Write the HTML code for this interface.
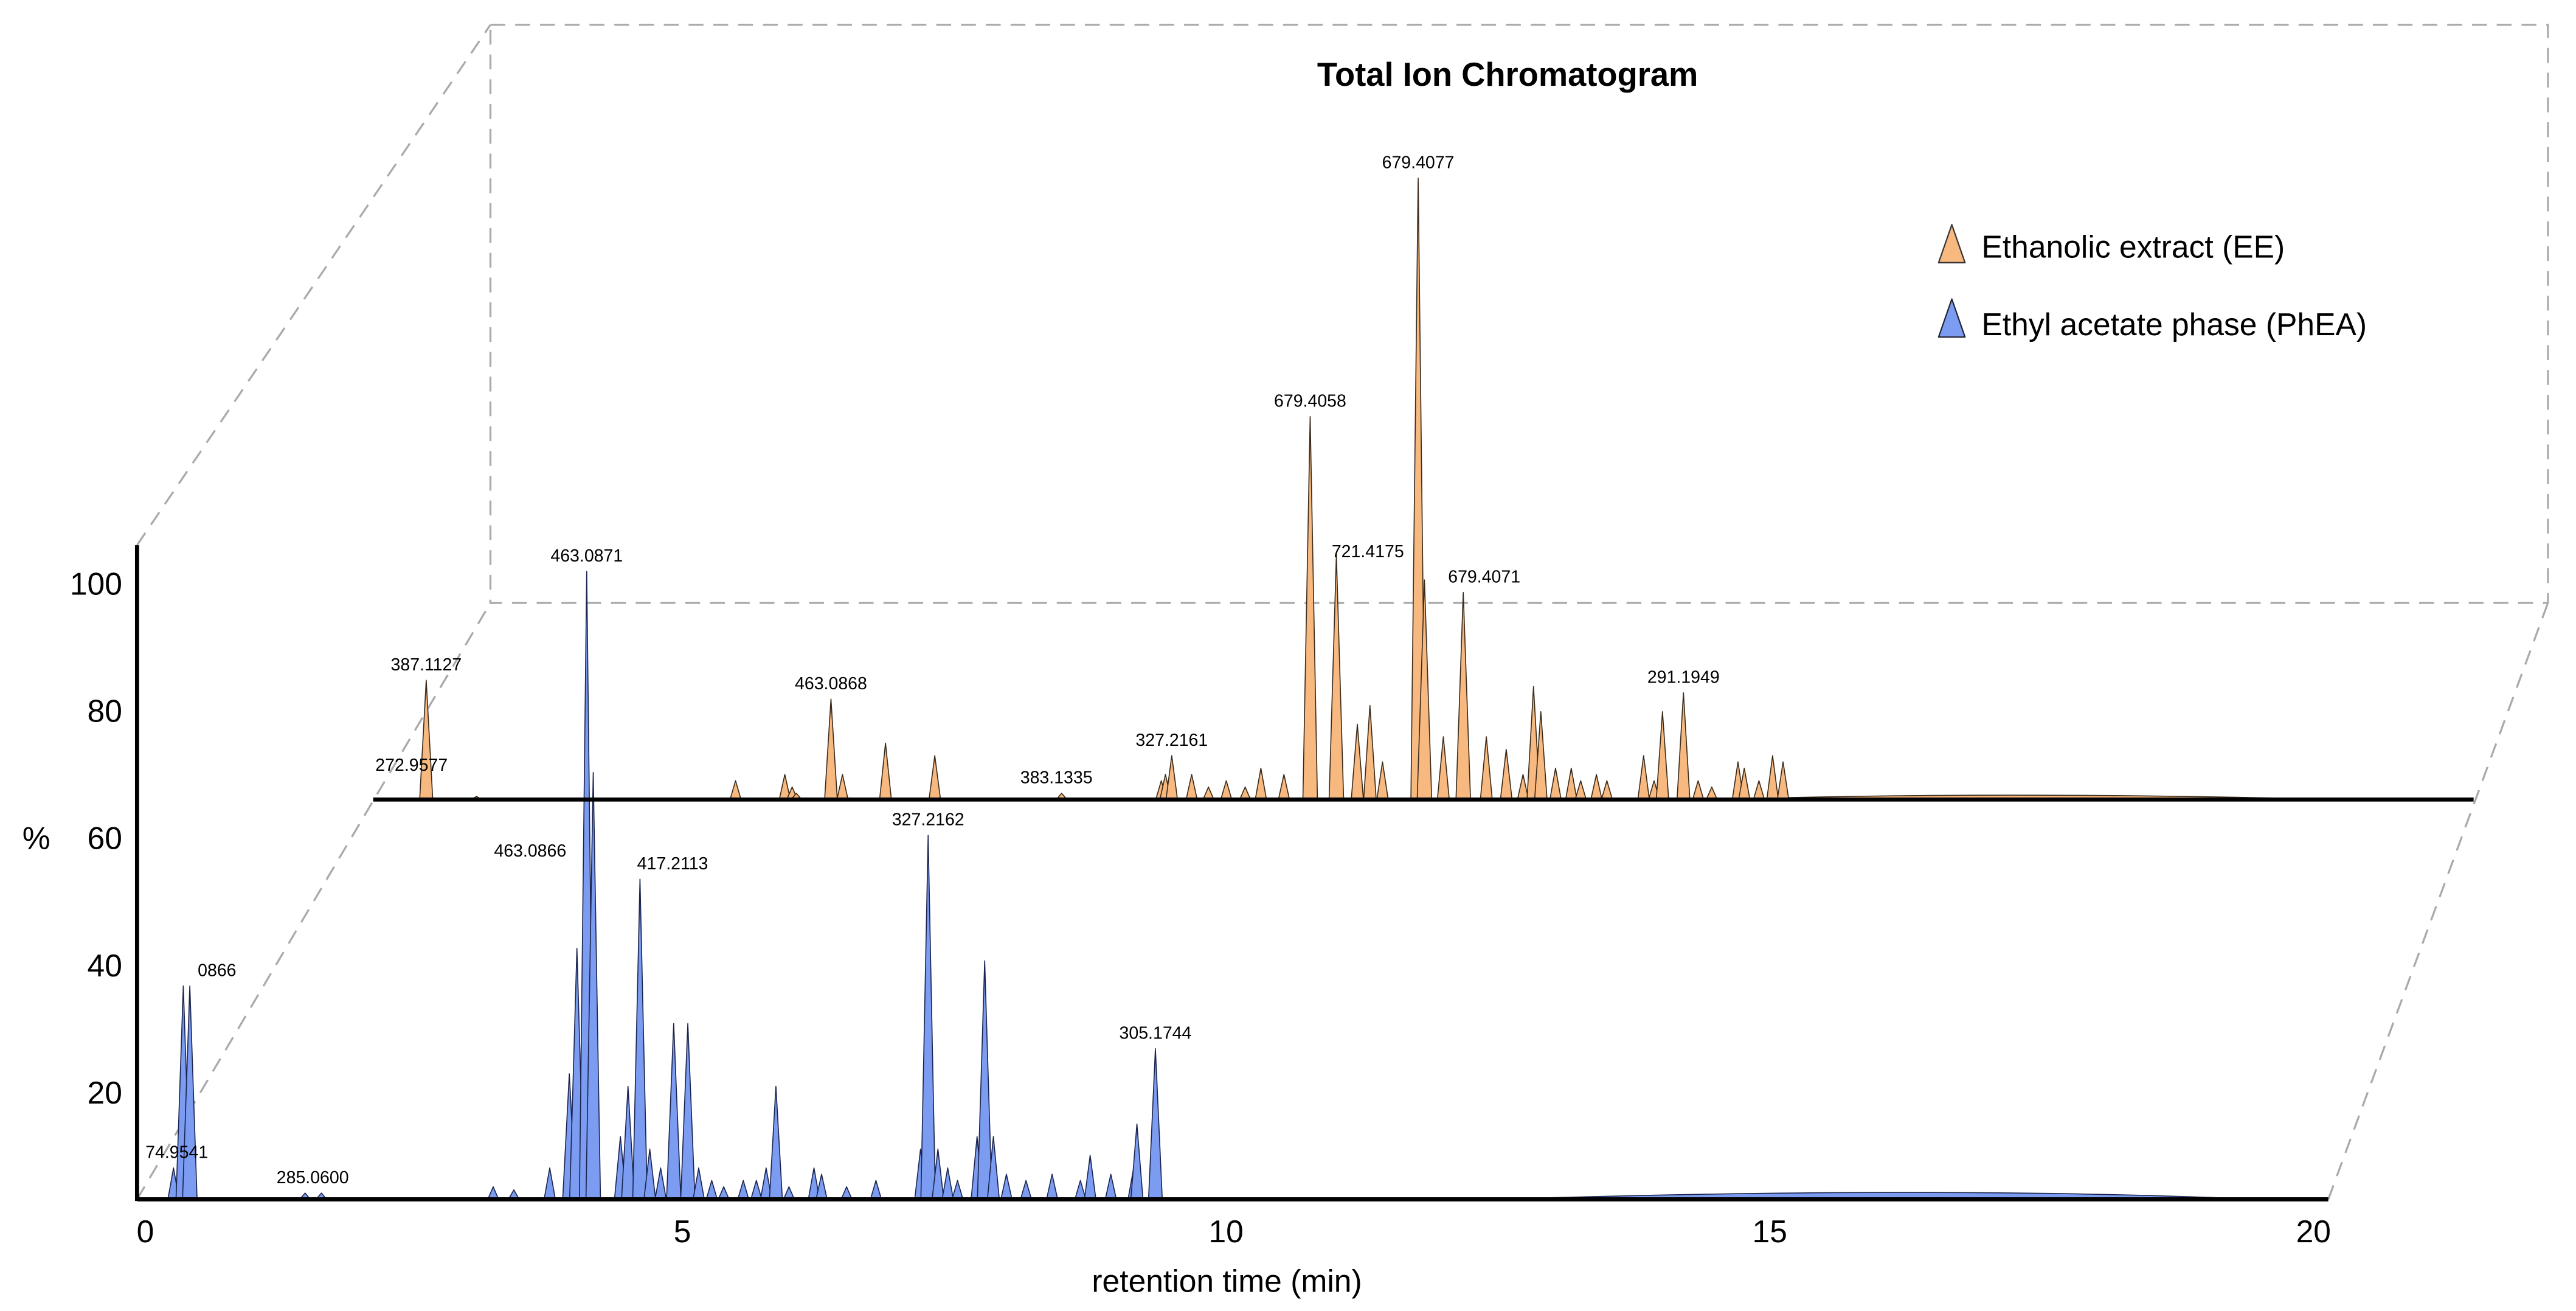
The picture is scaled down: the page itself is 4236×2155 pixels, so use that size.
<!DOCTYPE html>
<html><head><meta charset="utf-8"><style>
html,body{margin:0;padding:0;background:#fff;}
svg{display:block;font-family:"Liberation Sans",Arial,sans-serif;}
</style></head><body>
<svg id="chart" width="4236" height="2155" viewBox="0 0 1560 793.6" preserveAspectRatio="none" xmlns="http://www.w3.org/2000/svg">
<g fill="none" stroke="#aaa" stroke-width="1.2" stroke-dasharray="9,6">
<rect x="297" y="15" width="1246" height="350"/>
<line x1="83" y1="330" x2="297" y2="15"/>
<line x1="83" y1="726" x2="297" y2="365"/>
<line x1="1410" y1="726" x2="1543" y2="365"/>
</g>
<text x="913" y="52" text-anchor="middle" font-size="20" font-weight="bold">Total Ion Chromatogram</text>
<g>
<path d="M1174,159 L1182,136 L1190,159 Z" fill="#f7b97f" stroke="#333" stroke-width="0.8" stroke-linejoin="round"/>
<text x="1200" y="156" font-size="19">Ethanolic extract (EE)</text>
<path d="M1174,204 L1182,181 L1190,204 Z" fill="#7b9cf0" stroke="#223" stroke-width="0.8" stroke-linejoin="round"/>
<text x="1200" y="203" font-size="19">Ethyl acetate phase (PhEA)</text>
</g>
<g id="ee"></g>
<g id="phea"></g>
<line x1="226" y1="484" x2="1498" y2="484" stroke="#000" stroke-width="2.5"/>
<line x1="83" y1="726" x2="1410" y2="726" stroke="#000" stroke-width="2.5"/>
<line x1="83" y1="330" x2="83" y2="727" stroke="#000" stroke-width="2.5"/>
<g id="xt"></g>
<g id="yt"></g>
<text x="743" y="782" text-anchor="middle" font-size="19">retention time (min)</text>
<text x="22" y="514" text-anchor="middle" font-size="19">%</text>
<g id="labels" font-size="10.5" text-anchor="middle"></g>
</svg>
<script>
// EE (middle layer) peaks: retention times (min) and intensities (%)
const eeTimes = [0.49,0.97,3.44,3.91,3.98,4.02,4.35,4.46,4.87,5.34,6.55,7.5,7.54,7.6,7.79,7.95,8.12,8.3,8.45,8.67,8.92,9.17,9.37,9.49,9.61,9.95,10.01,10.19,10.38,10.6,10.79,10.95,11.05,11.12,11.26,11.41,11.5,11.65,11.75,12.1,12.2,12.28,12.48,12.62,12.75,13.0,13.06,13.2,13.33,13.43];
const eeVals  = [19,0.5,3,4,2,1,16,4,9,7,1,3,4,7,4,2,3,2,5,4,61,39,12,15,6,99,35,10,33,10,8,4,18,14,5,5,3,4,3,7,3,14,17,3,2,6,5,3,7,6];
// PhEA (front layer) peaks
const pheaTimes = [0.32,0.41,0.47,1.53,1.68,3.26,3.45,3.78,3.96,4.03,4.12,4.18,4.43,4.5,4.61,4.7,4.8,4.92,5.05,5.15,5.27,5.38,5.56,5.68,5.77,5.86,5.98,6.21,6.28,6.51,6.78,7.19,7.26,7.35,7.44,7.53,7.71,7.78,7.86,7.98,8.16,8.4,8.66,8.75,8.94,9.15,9.18,9.35];
const pheaVals  = [5,34,34,1,1,2,1.5,5,20,40,100,68,10,18,51,8,5,28,28,5,3,2,3,3,5,18,2,5,4,2,3,8,58,8,5,3,10,38,10,4,3,4,3,7,4,5,12,24];
// broad humps: [start, peak, end] time, height
const eeHump = [12.8,15.5,18.7], eeHumpH = [0.7];
const pheaHump = [12.5,16.5,19.5], pheaHumpH = [1.1];
const xTicks = [0,5,10,15,20];
const yTicks = [20,40,60,80,100];
// annotations: [series, time, intensity, label]
const labelSeries = ["phea","ee","ee","ee","ee","ee","ee","ee","ee","ee","ee","phea","phea","phea","phea","phea","phea","phea"];
const labelTimes  = [4.12,0.49,0.35,4.35,6.5,7.6,8.92,9.47,9.95,10.58,12.48,3.6,4.91,7.26,9.35,0.72,0.35,1.6];
const labelVals   = [100,19,3,16,1,7,61,37,99,33,17,53,51,58,24,34,5,1];
const labelText   = ["463.0871","387.1127","272.9577","463.0868","383.1335","327.2161","679.4058","721.4175","679.4077","679.4071","291.1949","463.0866","417.2113","327.2162","305.1744","0866","74.9541","285.0600"];

const NS="http://www.w3.org/2000/svg";
const front={x0:84,sx:65.85,base:726,sy:3.8};
const mid={x0:227,sx:63.5,base:484,sy:3.8};
function X(l,t){return l.x0+t*l.sx;}
function Y(l,v){return l.base-v*l.sy;}
function drawSeries(g,l,times,vals,hump,humpH,fill,stroke){
  const hp=document.createElementNS(NS,'path');
  hp.setAttribute('d',`M${X(l,hump[0])},${l.base} Q${X(l,hump[1])},${Y(l,humpH[0]*2)} ${X(l,hump[2])},${l.base} Z`);
  hp.setAttribute('fill',fill);hp.setAttribute('stroke',stroke);hp.setAttribute('stroke-width','0.6');
  
  
  g.appendChild(hp);
  times.forEach((t,i)=>{
    const x=X(l,t),y=Y(l,vals[i]);const w=3.2+Math.min(vals[i],30)*0.04;
    const p=document.createElementNS(NS,'path');
    p.setAttribute('d',`M${x-w},${l.base} L${x},${y} L${x+w},${l.base} Z`);
    p.setAttribute('fill',fill);p.setAttribute('stroke',stroke);p.setAttribute('stroke-width','0.6');p.setAttribute('stroke-linejoin','round');
    
    
    g.appendChild(p);
  });
}
drawSeries(document.getElementById('ee'),mid,eeTimes,eeVals,eeHump,eeHumpH,'#f7b97f','#3a2a1a');
drawSeries(document.getElementById('phea'),front,pheaTimes,pheaVals,pheaHump,pheaHumpH,'#7b9cf0','#1a2450');
const xt=document.getElementById('xt');
xTicks.forEach(v=>{const t=document.createElementNS(NS,'text');
  t.setAttribute('x',X(front,v)+(v===0?4:0));t.setAttribute('y',752);t.setAttribute('font-size','19');t.setAttribute('text-anchor','middle');t.textContent=v;
  
  
  xt.appendChild(t);});
const yt=document.getElementById('yt');
yTicks.forEach(v=>{const t=document.createElementNS(NS,'text');
  t.setAttribute('x',74);t.setAttribute('y',738-v*3.85+7);t.setAttribute('font-size','19');t.setAttribute('text-anchor','end');t.textContent=v;
  
  
  yt.appendChild(t);});
const lg=document.getElementById('labels');
labelText.forEach((s,i)=>{const l=labelSeries[i]==='ee'?mid:front;const t=document.createElementNS(NS,'text');
  t.setAttribute('x',X(l,labelTimes[i]));t.setAttribute('y',Y(l,labelVals[i])-6);t.textContent=s;
  
  
  lg.appendChild(t);});
</script>
</body></html>
